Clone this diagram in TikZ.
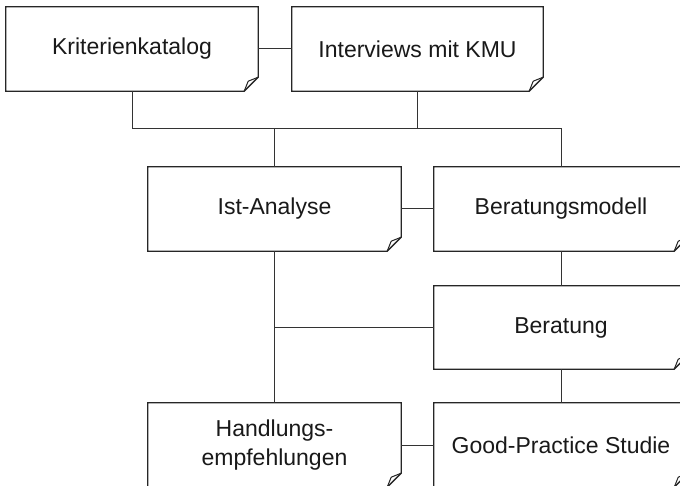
\documentclass[tikz,border=0pt]{standalone}
\usepackage{fontspec}
\setmainfont{Liberation Sans}
\tikzset{
  notebox/.style={draw=none, inner sep=0pt, align=center,
    font=\fontsize{23}{29}\selectfont, text=black!90},
  link/.style={draw=black!80, line width=1pt},
  outline/.style={draw=black!85, line width=1.3pt, line join=miter},
  earline/.style={draw=black!85, line width=1pt, line join=round},
}
\newcommand{\dogear}[1]{%
  \draw[outline] (#1.north west) -- (#1.north east) -- ([yshift=14pt]#1.south east)
    -- ([xshift=-14pt]#1.south east) -- (#1.south west) -- cycle;
  \draw[earline] ([xshift=-14pt]#1.south east) -- ([xshift=-10pt,yshift=10pt]#1.south east)
    -- ([yshift=14pt]#1.south east);
}
\begin{document}
\begin{tikzpicture}[x=1pt,y=-1pt]
\useasboundingbox (0,0) rectangle (680,486);
\clip (0,0) rectangle (680,486);
\fill[white] (0,0) rectangle (680,486);
% boxes
\node[notebox, minimum width=252pt, minimum height=84pt] (K) at (132,49) {Kriterienkatalog};
\node[notebox, minimum width=251pt, minimum height=84pt] (I) at (417.5,49) {Interviews mit KMU};
\node[notebox, minimum width=253pt, minimum height=84pt] (A) at (274.5,209) {Ist-Analyse};
\node[notebox, minimum width=254pt, minimum height=84pt] (M) at (561,209) {Beratungsmodell};
\node[notebox, minimum width=254pt, minimum height=83pt] (B) at (561,327.5) {Beratung};
\node[notebox, minimum width=253pt, minimum height=84pt] (H) at (274.5,445) {Handlungs-\\empfehlungen};
\node[notebox, minimum width=254pt, minimum height=84pt] (G) at (561,445) {Good-Practice Studie};
\foreach \n in {K,I,A,M,B,H,G} {\dogear{\n}}
% connectors
\coordinate (j) at (0,129);
\draw[link] (K.east) -- (I.west);
\draw[link] (K.south) -- (K.south |- j) -- (M.north |- j) -- (M.north);
\draw[link] (I.south) -- (I.south |- j);
\draw[link] (A.north |- j) -- (A.north);
\draw[link] (A.east) -- (M.west);
\draw[link] (M.south) -- (B.north);
\draw[link] (A.south) -- (H.north);
\draw[link] (A.south |- B.west) -- (B.west);
\draw[link] (B.south) -- (G.north);
\draw[link] (H.east) -- (G.west);
\end{tikzpicture}
\end{document}
